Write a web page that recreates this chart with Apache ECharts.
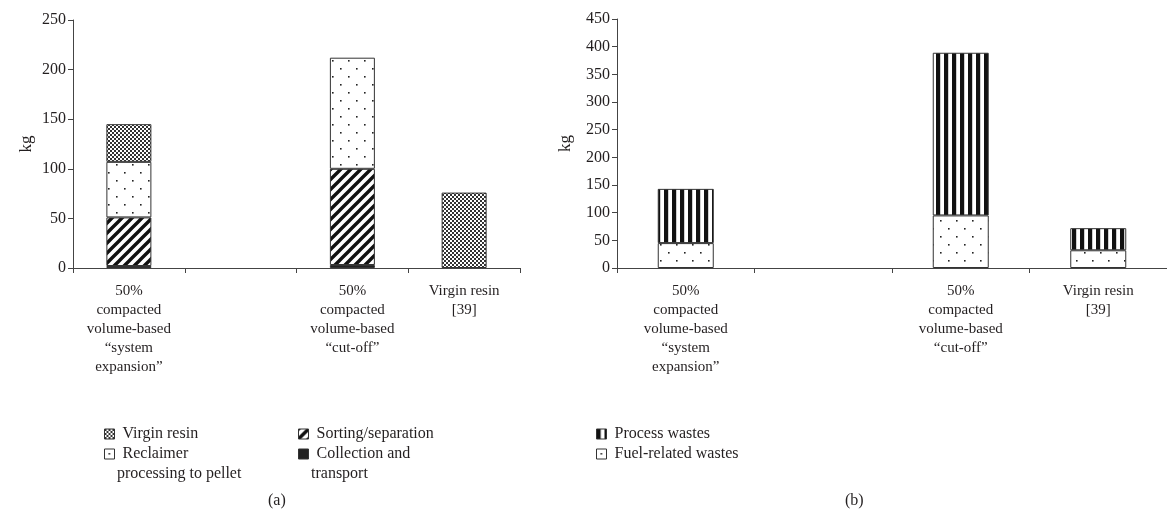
<!DOCTYPE html>
<html><head><meta charset="utf-8">
<script src="https://cdn.jsdelivr.net/npm/echarts@6/dist/echarts.min.js"></script>
<style>html,body{margin:0;padding:0;background:#fff}#c{width:1167px;height:514px}</style>
</head><body><div id="c"></div>
<script>
// ---- data ----
const categories = ['50%\ncompacted\nvolume-based\n“system\nexpansion”', '', '50%\ncompacted\nvolume-based\n“cut-off”', 'Virgin resin\n[39]'];
// panel (a)
const collectionTransport = [2, null, 3, null];
const sortingSeparation = [49, null, 97, null];
const reclaimerProcessing = [56, null, 112, null];
const virginResinA = [38, null, null, 76];
// panel (b)
const fuelRelated = [45, null, 95, 32];
const processWastes = [98, null, 294, 40];
const yTicksA = [0, 250, 50];
const yTicksB = [0, 450, 50];

const FONT = '"Liberation Serif", "DejaVu Serif", serif';
const TXT = '#231f20';
const LF = 16; // legend font size

function pat(w, h, draw) {
  const c = document.createElement('canvas'); c.width = w; c.height = h;
  const g = c.getContext('2d'); g.fillStyle = '#fff'; g.fillRect(0, 0, w, h);
  draw(g, w, h); return { image: c, repeat: 'repeat' };
}
const checker = pat(4, 4, g => { g.fillStyle = '#333'; g.fillRect(0, 0, 2, 2); g.fillRect(2, 2, 2, 2); });
const dots = pat(16, 16, g => { g.fillStyle = '#222'; g.fillRect(4, 4, 1.6, 1.6); g.fillRect(12, 12, 1.6, 1.6); });
const diag = pat(10, 10, g => {
  g.strokeStyle = '#111'; g.lineWidth = 3.4;
  g.beginPath();
  g.moveTo(-2, 12); g.lineTo(12, -2);
  g.moveTo(-7, 7); g.lineTo(7, -7);
  g.moveTo(3, 17); g.lineTo(17, 3);
  g.stroke();
});
const vstripe = pat(8, 8, g => { g.fillStyle = '#111'; g.fillRect(0, 0, 4.2, 8); });
const solid = '#222';

const border = { borderColor: '#333', borderWidth: 1 };

function xAxis(gi) {
  return {
    type: 'category', gridIndex: gi, data: categories,
    axisLine: { show: true, lineStyle: { color: '#444', width: 1 } },
    axisTick: { show: true, length: 5, lineStyle: { color: '#444' } },
    axisLabel: { interval: 0, margin: 14, fontSize: 15, lineHeight: 19, fontFamily: FONT, color: TXT, verticalAlign: 'top' },
    splitLine: { show: false }
  };
}
function yAxis(gi, t, gap) {
  return {
    type: 'value', gridIndex: gi, min: t[0], max: t[1], interval: t[2],
    name: 'kg', nameLocation: 'middle', nameGap: gap, nameRotate: 90,
    nameTextStyle: { fontSize: 17, fontFamily: FONT, color: TXT },
    axisLine: { show: true, lineStyle: { color: '#444', width: 1 } },
    axisTick: { show: true, length: 5, lineStyle: { color: '#444' } },
    axisLabel: { fontSize: 16, fontFamily: FONT, color: TXT, margin: 7 },
    splitLine: { show: false }
  };
}
function bar(name, data, color, gi, w) {
  return {
    name, type: 'bar', stack: 's' + gi, xAxisIndex: gi, yAxisIndex: gi, data,
    barWidth: w, itemStyle: Object.assign({ color }, border),
    emphasis: { disabled: true }, animation: false
  };
}
function leg(name, text, left, top) {
  return {
    data: [name], left, top, itemWidth: 10, itemHeight: 10, itemGap: 0,
    icon: 'rect', formatter: () => text, selectedMode: false,
    textStyle: { fontSize: LF, fontFamily: FONT, color: TXT, padding: [0, 0, 0, 3] },
    itemStyle: { borderColor: '#333', borderWidth: 1 }, padding: 0
  };
}
const chart = echarts.init(document.getElementById('c'));
chart.setOption({
  animation: false,
  backgroundColor: '#fff',
  grid: [
    { left: 73, right: 1167 - 520, top: 20, bottom: 514 - 268 },
    { left: 617, right: -6, top: 19, bottom: 514 - 268 }
  ],
  xAxis: [xAxis(0), xAxis(1)],
  yAxis: [yAxis(0, yTicksA, 38), yAxis(1, yTicksB, 43)],
  legend: [
    leg('Virgin resin', 'Virgin resin', 104, 426),
    leg('Reclaimer processing to pellet', 'Reclaimer', 104, 446),
    leg('Sorting/separation', 'Sorting/separation', 298, 426),
    leg('Collection and transport', 'Collection and', 298, 446),
    leg('Process wastes', 'Process wastes', 596, 426),
    leg('Fuel-related wastes', 'Fuel-related wastes', 596, 446)
  ],
  graphic: [
    { type: 'text', left: 117, top: 466, style: { text: 'processing to pellet', font: LF + 'px ' + FONT, fill: TXT } },
    { type: 'text', left: 311, top: 466, style: { text: 'transport', font: LF + 'px ' + FONT, fill: TXT } },
    { type: 'text', left: 268, top: 493, style: { text: '(a)', font: '16px ' + FONT, fill: TXT } },
    { type: 'text', left: 845, top: 493, style: { text: '(b)', font: '16px ' + FONT, fill: TXT } }
  ],
  series: [
    bar('Collection and transport', collectionTransport, solid, 0, 45),
    bar('Sorting/separation', sortingSeparation, diag, 0, 45),
    bar('Reclaimer processing to pellet', reclaimerProcessing, dots, 0, 45),
    bar('Virgin resin', virginResinA, checker, 0, 45),
    bar('Fuel-related wastes', fuelRelated, dots, 1, 56),
    bar('Process wastes', processWastes, vstripe, 1, 56)
  ]
});
</script></body></html>
